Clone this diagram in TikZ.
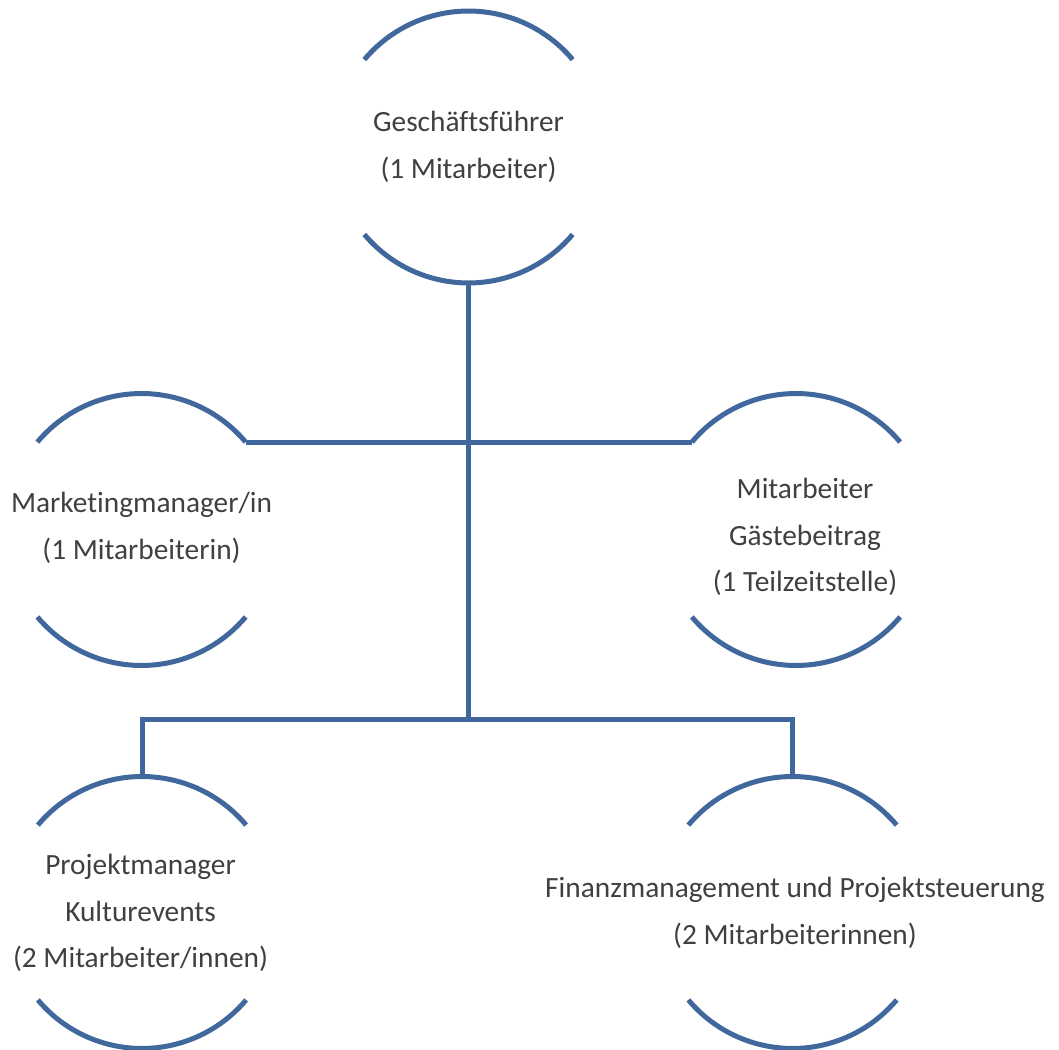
\documentclass[tikz,border=0pt]{standalone}
\usepackage{fontspec}
\setmainfont{Carlito}[Ligatures=NoCommon]
\usepackage{tikz}
\usetikzlibrary{positioning}

\definecolor{orgblue}{HTML}{41689D}
\definecolor{orgtext}{HTML}{404040}

\begin{document}
\begin{tikzpicture}
            [x=0.02cm,y=0.02cm,
             ring/.style={circle, draw=none, inner sep=0pt, outer sep=0pt, minimum size=5.44cm},
             txt/.style={align=center, text=orgtext, inner sep=0pt, font=\fontsize{16.7}{26.5}\selectfont},
             link/.style={draw=orgblue, line width=0.1cm}]
          \useasboundingbox (0,-1050) rectangle (1059,0);

          \node[ring] (gf) at (468.5,-147) {};
          \node[ring] (mk) at (141.5,-529.5) {};
          \node[ring] (ga) at (796,-529.5) {};
          \node[ring] (pm) at (142,-912.5) {};
          \node[ring] (fm) at (792.5,-912.5) {};

          \node[txt] (gft) at (468.5,-147) {Geschäftsführer\\(1 Mitarbeiter)};
          \node[txt] (mkt) at (141.5,-528) {Marketingmanager/in\\(1 Mitarbeiterin)};
          \node[txt] (gat) at (805,-537) {Mitarbeiter\\Gästebeitrag\\(1 Teilzeitstelle)};
          \node[txt] (pmt) at (140.5,-913) {Projektmanager\\Kulturevents\\(2 Mitarbeiter/innen)};
          \node[txt] (fmt) at (795,-913) {Finanzmanagement und Projektsteuerung\\(2 Mitarbeiterinnen)};

          \coordinate (j) at (468.5,-720);

          \foreach \n in {gf,mk,ga,pm,fm}
            {
            \draw[link] (\n.40) arc[start angle=40, end angle=140, radius=2.72cm];
            \draw[link] (\n.220) arc[start angle=220, end angle=320, radius=2.72cm];
            }

          \draw[link] (gf.south) -- (j);
          \draw[link] (mk.40) -- (ga.140);
          \draw[link] (pm.north) |- (j) -| (fm.north);
        \end{tikzpicture}
\end{document}
